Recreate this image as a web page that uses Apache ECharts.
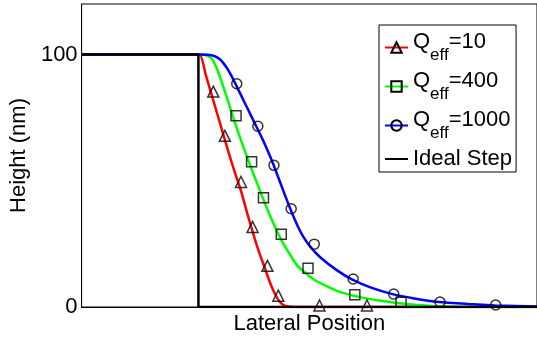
<!DOCTYPE html>
<html>
<head>
<meta charset="utf-8">
<script src="https://cdn.jsdelivr.net/npm/echarts@6.0.0/dist/echarts.min.js"></script>
<style>
  html, body { margin: 0; padding: 0; background: #fff; }
  #chart { width: 537px; height: 340px; }
</style>
</head>
<body>
<div id="chart"></div>
<script>
// lateral position is in arbitrary units, height in nm
var xRange = [0, 460]
var yRange = [0, 120]
var yTickValues = [0, 100]

var legendNames = ['Q_eff=10', 'Q_eff=400', 'Q_eff=1000', 'Ideal Step']

// simulated profiles (lines)
var q10Line = [[0, 100], [119, 100], [125, 92.5], [131, 84.5], [137, 76.5], [143, 68.5], [149, 60.5],
  [155, 53], [161, 46], [167, 37.5], [173, 29.5], [179, 22], [185, 15.5], [190, 10], [194, 6.2],
  [198, 3.2], [202, 1.3], [207, 0.3], [215, 0], [460, 0]]
var q400Line = [[0, 100], [119, 100], [125, 99.8], [131, 98.5], [136, 95], [141, 89.8], [147.5, 82],
  [154, 74], [161, 66], [168, 58.5], [175, 51.3], [181, 45.2], [191, 35.5], [202.7, 25.8], [217.7, 16.5],
  [234, 11], [258, 6.4], [281, 3.9], [301, 2.6], [321, 1.5], [354, 0.4], [391, 0], [460, 0]]
var q1000Line = [[0, 100], [119, 100], [127, 99.9], [134, 99.4], [139, 98.3], [143, 96.7], [147, 94.5],
  [151, 91.8], [156, 87.9], [161, 83.9], [166, 79.9], [171, 75.9], [176, 71.9], [181, 67.9], [186, 63.7],
  [191, 59.1], [196, 54.1], [201, 48.9], [206, 43.7], [212, 37.7], [218, 32.3], [224, 27.8], [232, 23.4],
  [241, 19.7], [257.7, 14.6], [274, 10.7], [291, 7.9], [314, 5.1], [336, 3.4], [361, 2.0], [391, 1.2],
  [418, 0.6], [460, 0.2]]
var idealStep = [[0, 100], [118, 100], [118, 0], [460, 0]]

// sampled points (markers)
var q10Marks = [[133, 85.3], [144.7, 67.8], [161, 49.5], [172.7, 31.7], [187.7, 16.3], [198.7, 4.5],
  [240.3, 0.6], [288.3, 0.6]]
var q400Marks = [[156, 75.7], [171.7, 57.5], [183.7, 43.3], [201.7, 28.8], [228.7, 15.3], [276, 4.9],
  [322.7, 1.9]]
var q1000Marks = [[156.7, 88.4], [178, 71.6], [194.3, 56.1], [211.7, 38.9], [235, 24.9], [274.3, 11.1],
  [315.3, 5.1], [362, 2.0], [418.3, 0.8]]

var font = 'Liberation Sans, Arial, Helvetica, sans-serif'
var hollow = { color: 'rgba(0,0,0,0)', borderColor: '#000', borderWidth: 1.5 }

function lineSeries(name, data, color, symbol) {
  return {
    name: name,
    type: 'line',
    data: data,
    showSymbol: false,
    symbol: symbol,
    symbolSize: 11,
    smooth: 0.15,
    lineStyle: { color: color, width: 2.5 },
    itemStyle: hollow,
    z: 2
  }
}

function markSeries(data, symbol, size) {
  return {
    type: 'scatter',
    data: data,
    symbol: symbol,
    symbolSize: size,
    itemStyle: hollow,
    z: 4
  }
}

var chart = echarts.init(document.getElementById('chart'))
chart.setOption({
  animation: false,
  textStyle: { fontFamily: font },
  grid: {
    left: 79, right: -2, top: 4, bottom: 32,
    show: true, borderColor: '#000', borderWidth: 1
  },
  legend: {
    orient: 'vertical',
    left: 379, top: 25,
    padding: [6, 4, 2, 5],
    itemGap: 6,
    itemWidth: 23,
    itemHeight: 13,
    backgroundColor: '#fff',
    borderColor: '#000',
    borderWidth: 1,
    borderRadius: 0,
    data: legendNames.map(function (n) {
      if (n === 'Ideal Step') {
        return { name: n, itemStyle: { color: 'rgba(0,0,0,0)', borderWidth: 0 } }
      }
      return { name: n }
    }),
    formatter: function (name) {
      var p = name.split('_eff')
      if (p.length < 2) return '{q|' + name + '}'
      return '{q|' + p[0] + '}{sub|eff}{q|' + p[1] + '}'
    },
    textStyle: {
      color: '#000', fontSize: 22, fontFamily: font,
      rich: {
        q: { fontSize: 22, verticalAlign: 'top', fontFamily: font },
        sub: { fontSize: 17, padding: [16, 0, 0, 0], verticalAlign: 'bottom', fontFamily: font }
      }
    }
  },
  xAxis: {
    type: 'value',
    min: xRange[0], max: xRange[1],
    name: 'Lateral Position',
    nameLocation: 'middle',
    nameGap: 6,
    nameTextStyle: { color: '#000', fontSize: 22, fontFamily: font, verticalAlign: 'top' },
    axisLine: { lineStyle: { color: '#000', width: 1 } },
    axisTick: { show: false },
    axisLabel: { show: false },
    splitLine: { show: false }
  },
  yAxis: {
    type: 'value',
    min: yRange[0], max: yRange[1],
    name: 'Height (nm)',
    nameLocation: 'middle',
    nameGap: 37,
    nameTextStyle: { color: '#000', fontSize: 22, fontFamily: font },
    axisLine: { show: true, lineStyle: { color: '#000', width: 1 } },
    axisTick: { show: false },
    axisLabel: { customValues: yTickValues, color: '#000', fontSize: 22, margin: 4, fontFamily: font },
    splitLine: { show: false }
  },
  series: [
    lineSeries(legendNames[0], q10Line, '#ff0000', 'triangle'),
    lineSeries(legendNames[1], q400Line, '#00ff00', 'rect'),
    lineSeries(legendNames[2], q1000Line, '#0000ff', 'circle'),
    {
      name: legendNames[3],
      type: 'line',
      data: idealStep,
      showSymbol: false,
      symbol: 'none',
      lineStyle: { color: '#000', width: 2.5 },
      itemStyle: { color: '#000' },
      z: 3
    },
    markSeries(q10Marks, 'triangle', 11),
    markSeries(q400Marks, 'rect', 10),
    markSeries(q1000Marks, 'circle', 10)
  ]
})
</script>
</body>
</html>
